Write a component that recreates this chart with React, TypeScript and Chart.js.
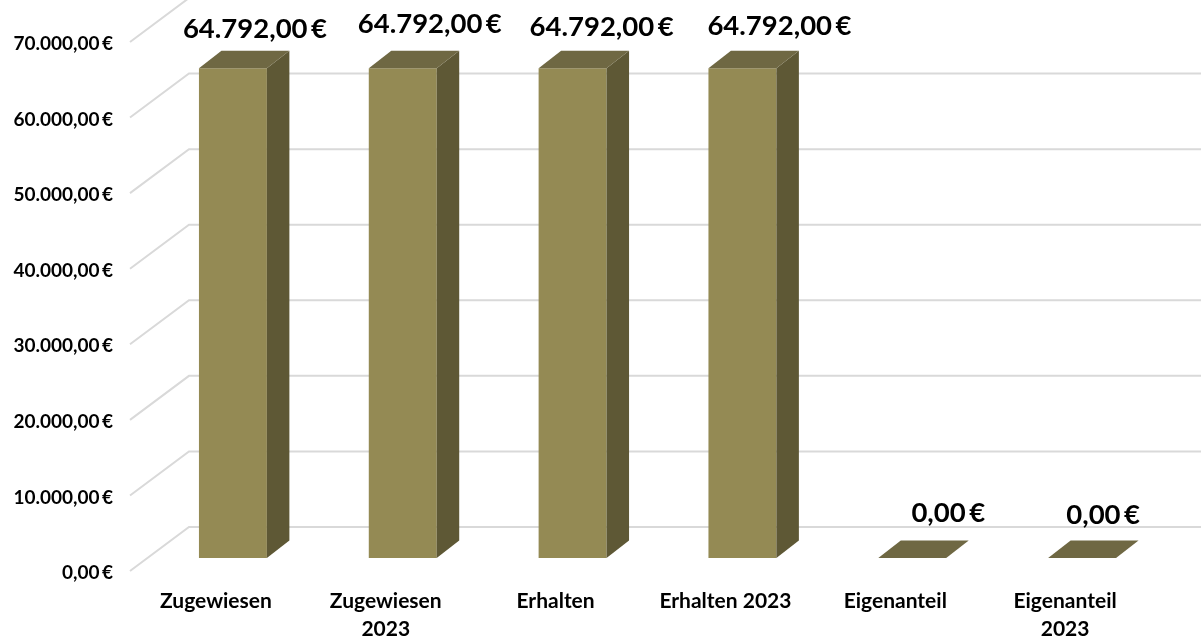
import React, { useEffect, useRef } from "react";
import { Chart, registerables } from "chart.js";

Chart.register(...registerables);

const categories: (string | string[])[] = [
  "Zugewiesen",
  ["Zugewiesen", "2023"],
  "Erhalten",
  "Erhalten 2023",
  "Eigenanteil",
  ["Eigenanteil", "2023"],
];
const values = [64792, 64792, 64792, 64792, 0, 0];
const gridValues = [0, 10000, 20000, 30000, 40000, 50000, 60000, 70000];

const fmt = (v: number) =>
  new Intl.NumberFormat("de-DE", { minimumFractionDigits: 2, maximumFractionDigits: 2 }).format(v) + "\u2009€";

const FONT = "Lato, Carlito, 'Noto Sans', sans-serif";
const COL_FRONT = "#948A54";
const COL_SIDE = "#5E5835";
const COL_TOP = "#6F6843";
const COL_GRID = "#D9D9D9";

const DX = 22.5;
const DY = 17.5;
const BACK_X = 189;
const WALL_X = 130;
const FRONT_SHIFT = 13;
const BACK_SHIFT = 31;
const labelNudge = [
  [22, -39],
  [27, -44],
  [29, -41],
  [37, -42],
  [36, -45],
  [21, -43],
];

const poly = (ctx: CanvasRenderingContext2D, pts: number[][], fill: string) => {
  ctx.fillStyle = fill;
  ctx.beginPath();
  pts.forEach(([x, y], i) => (i ? ctx.lineTo(x, y) : ctx.moveTo(x, y)));
  ctx.closePath();
  ctx.fill();
};

const depthPlugin = {
  id: "depth",
  beforeDatasetsDraw(chart: any) {
    const { ctx, scales, width } = chart;
    ctx.save();
    ctx.strokeStyle = COL_GRID;
    ctx.lineWidth = 2;
    gridValues.forEach((v) => {
      const y = scales.y.getPixelForValue(v);
      ctx.beginPath();
      ctx.moveTo(WALL_X, y + FRONT_SHIFT);
      ctx.lineTo(BACK_X, y - BACK_SHIFT);
      ctx.lineTo(width, y - BACK_SHIFT);
      ctx.stroke();
    });
    ctx.restore();
  },
  afterDatasetsDraw(chart: any) {
    const { ctx } = chart;
    const bars = chart.getDatasetMeta(0).data;
    ctx.save();
    bars.forEach((bar: any, i: number) => {
      const { x, y, base, width: w } = bar.getProps(["x", "y", "base", "width"], true);
      const l = x - w / 2;
      const r = x + w / 2;
      if (base - y > 0.5) {
        poly(ctx, [[r, y], [r + DX, y - DY], [r + DX, base - DY], [r, base]], COL_SIDE);
      }
      poly(ctx, [[l, y], [l + DX, y - DY], [r + DX, y - DY], [r, y]], COL_TOP);
      ctx.fillStyle = "#000";
      ctx.font = `bold 27.5px ${FONT}`;
      ctx.textAlign = "center";
      ctx.textBaseline = "middle";
      ctx.fillText(fmt(values[i]), x + labelNudge[i][0], y + labelNudge[i][1]);
    });
    ctx.restore();
  },
};

const noPadding = (s: any) => {
  s.paddingTop = 0;
  s.paddingBottom = 0;
  s.paddingLeft = 0;
  s.paddingRight = 0;
};

export default function App() {
  const ref = useRef<HTMLCanvasElement>(null);
  useEffect(() => {
    const chart = new Chart(ref.current!, {
      type: "bar",
      data: {
        labels: categories as any,
        datasets: [
          {
            data: values,
            backgroundColor: COL_FRONT,
            borderWidth: 0,
            barPercentage: 0.4,
            categoryPercentage: 1,
          },
        ],
      },
      options: {
        animation: false,
        responsive: false,
        layout: { padding: { top: 29, right: 34, left: 0, bottom: 0 } },
        plugins: { legend: { display: false }, tooltip: { enabled: false } },
        scales: {
          x: {
            grid: { display: false },
            border: { display: false },
            afterFit: (s: any) => {
              s.height = 81;
              noPadding(s);
            },
            ticks: {
              color: "#000",
              autoSkip: false,
              maxRotation: 0,
              minRotation: 0,
              padding: 21,
              labelOffset: -17,
              font: { family: FONT, weight: "bold", size: 21, lineHeight: 1.33 },
            },
          },
          y: {
            min: 0,
            max: 70000,
            grid: { display: false, drawTicks: false },
            border: { display: false },
            afterFit: (s: any) => {
              s.width = 148;
              noPadding(s);
            },
            ticks: {
              stepSize: 10000,
              color: "#000",
              padding: 35,
              labelOffset: 15,
              font: { family: FONT, weight: "bold", size: 19 },
              callback: (v: any) => fmt(Number(v)),
            },
          },
        },
      },
      plugins: [depthPlugin],
    });
    return () => chart.destroy();
  }, []);
  return (
    <div style={{ position: "absolute", left: 0, top: 0, width: 1201, height: 639, background: "#fff" }}>
      <canvas ref={ref} width={1201} height={639} style={{ display: "block" }} />
    </div>
  );
}
